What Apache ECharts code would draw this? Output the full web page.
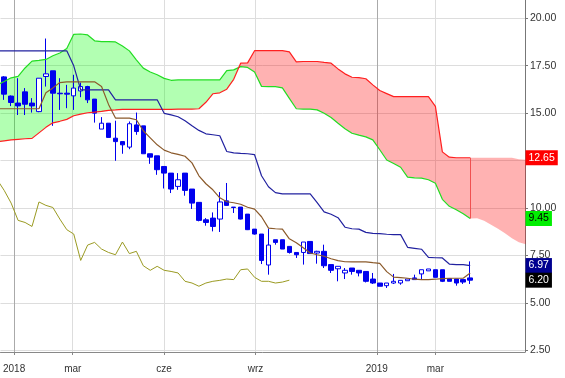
<!DOCTYPE html>
<html>
<head>
<meta charset="utf-8">
<script src="https://cdn.jsdelivr.net/npm/echarts@6/dist/echarts.min.js"></script>
<style>
  html, body { margin: 0; padding: 0; background: #fff; }
  #chart { width: 565px; height: 378px; }
</style>
</head>
<body>
<div id="chart"></div>
<script>
// weekly candles, first one (week of 2017-12-22) .. last one (2019-04-05)
const opens = [16.91,15.90,15.53,16.12,15.53,15.08,16.93,17.23,16.05,16.05,
  15.91,16.17,16.40,15.74,14.16,14.47,13.68,13.50,13.21,14.38,
  14.33,12.86,12.75,12.19,11.84,11.14,11.84,11.00,10.30,9.38,
  9.47,9.42,10.38,10.05,10.05,9.68,8.89,8.63,7.00,8.33,
  8.33,7.98,7.66,7.66,8.24,7.63,7.72,7.02,6.80,6.58,
  6.84,6.72,6.66,6.26,6.05,5.91,6.05,6.05,6.17,6.32,
  6.53,6.69,6.75,6.75,6.28,6.26,6.23,6.32];
const closes = [16.00,15.56,15.38,15.47,15.38,16.84,17.07,16.05,16.02,16.00,
  16.32,16.40,15.70,15.00,14.47,13.72,13.50,13.33,14.44,14.03,
  12.86,12.68,12.02,11.84,11.00,11.49,10.93,10.26,9.35,9.24,
  9.03,10.32,10.14,10.03,9.42,8.86,8.63,7.24,8.05,8.19,
  7.84,7.66,7.54,8.21,7.60,7.72,6.96,6.72,6.93,6.72,
  6.66,6.58,6.14,6.05,5.88,6.05,6.14,6.19,6.26,6.23,
  6.75,6.79,6.35,6.14,6.14,6.05,6.10,6.20];
const lows = [15.70,15.37,14.90,14.90,15.03,15.05,16.40,14.33,15.17,15.26,
  15.17,15.84,15.53,14.50,14.16,13.72,12.49,12.86,13.10,13.86,
  12.86,12.33,11.75,11.03,10.79,10.96,10.65,9.95,9.30,9.07,
  8.77,8.74,10.12,9.74,9.40,8.84,8.60,7.05,6.49,8.07,
  7.84,7.60,7.37,7.02,7.60,7.07,6.84,6.58,6.14,6.26,
  6.49,6.40,6.08,6.00,5.88,5.79,6.00,5.96,6.17,6.23,
  6.23,6.69,6.35,6.10,6.14,5.91,6.00,6.00];
const highs = [16.95,15.93,16.84,16.32,15.79,16.84,18.93,17.23,16.84,16.49,
  17.02,16.61,16.44,15.74,14.79,14.47,14.60,13.50,14.56,15.03,
  14.33,12.86,12.75,12.19,11.84,11.84,11.84,11.00,10.30,9.47,
  9.77,10.84,11.32,10.05,10.05,9.68,8.89,8.63,8.91,8.33,
  8.33,7.98,7.66,8.21,8.24,7.75,8.07,7.02,6.93,6.84,
  6.84,6.72,6.66,6.58,6.05,6.05,6.53,6.19,6.26,6.49,
  6.75,6.79,6.75,6.75,6.28,6.26,6.23,7.19];

// indicator lines, starting one week before the first candle
const tenkan = [15.23,15.23,15.23,15.23,15.23,15.23,15.23,16.07,16.33,16.61,
  16.65,16.65,16.65,16.65,16.65,16.40,15.46,14.74,14.74,14.74,
  14.65,14.07,13.70,13.33,13.05,12.91,12.83,12.73,12.38,11.70,
  11.28,10.96,10.54,10.33,10.28,10.20,10.04,9.94,9.54,8.94,
  8.91,8.89,8.38,8.17,7.91,7.63,7.54,7.46,7.33,7.23,
  7.17,7.16,7.16,7.16,7.12,7.09,6.65,6.36,6.33,6.30,
  6.25,6.23,6.23,6.25,6.28,6.30,6.30,6.30,6.58];
const kijun = [18.28,18.28,18.28,18.28,18.28,18.28,18.28,18.28,18.28,18.28,
  18.28,17.49,16.23,16.23,16.23,16.23,16.23,15.70,15.70,15.70,
  15.70,15.70,15.70,15.70,14.99,14.91,14.81,14.60,14.33,14.09,
  13.91,13.86,13.81,12.98,12.91,12.88,12.86,12.81,11.70,11.12,
  10.81,10.75,10.75,10.75,10.75,10.75,10.28,9.80,9.67,9.49,
  8.99,8.91,8.89,8.72,8.67,8.65,8.62,8.60,8.60,7.93,
  7.88,7.83,7.40,7.38,7.37,7.05,7.02,7.02,6.97];
// cloud spans run 8 weeks further than the candles
const spanA = [16.49,16.67,16.86,16.94,17.38,17.74,17.78,17.83,18.02,18.17,
  18.40,19.15,19.17,19.12,18.81,18.77,18.77,18.75,18.54,18.28,
  17.81,17.37,17.17,17.02,16.83,16.73,16.75,16.75,16.75,16.75,
  16.75,16.75,16.75,17.24,17.28,17.45,17.41,17.17,16.41,16.40,
  16.40,16.33,15.78,15.23,15.21,15.21,15.17,14.99,14.77,14.47,
  14.18,13.94,13.84,13.75,13.59,13.07,12.53,12.35,12.15,11.63,
  11.59,11.58,11.49,11.31,10.46,10.09,9.91,9.70,9.45,9.46,
  9.33,9.12,8.91,8.67,8.41,8.20,8.09];
const spanB = [13.49,13.54,13.59,13.62,13.65,13.67,13.96,14.25,14.49,14.57,
  14.67,14.86,14.95,15.02,15.05,15.09,15.15,15.17,15.20,15.20,
  15.20,15.20,15.20,15.20,15.20,15.20,15.21,15.21,15.21,15.23,
  15.57,16.02,16.07,16.26,16.78,17.63,17.65,18.29,18.29,18.29,
  18.29,18.29,18.23,17.70,17.72,17.72,17.72,17.67,17.63,17.33,
  17.07,16.89,16.87,16.81,16.49,16.19,16.03,15.87,15.87,15.87,
  15.87,15.87,15.87,15.36,12.96,12.68,12.65,12.65,12.65,12.65,
  12.65,12.65,12.65,12.65,12.65,12.57,12.54];

const tickDates = [Date.UTC(2018,0,1), Date.UTC(2018,2,1), Date.UTC(2018,5,1),
  Date.UTC(2018,8,1), Date.UTC(2019,0,1), Date.UTC(2019,2,1)];
const tickLabels = ['2018', 'mar', 'cze', 'wrz', '2019', 'mar'];
const priceTicks = [2.5, 5, 7.5, 10, 12.5, 15, 17.5, 20];

const DAY = 86400000;
const startWeek = Date.UTC(2017, 11, 15);
const dates = spanA.map((_, k) => startWeek + k * 7 * DAY);
const axisMin = Date.UTC(2017, 11, 22) - 3.72 * DAY;
const axisMax = axisMin + 527.9 * DAY;
const last = closes.length; // index of last candle in dates

const pair = (arr) => arr.map((v, k) => [dates[k], v]);
const candles = [[dates[0], '-', '-', '-', '-']].concat(
  opens.map((o, i) => [dates[i + 1], o, closes[i], lows[i], highs[i]]));
const lagging = closes.slice(25).map((v, k) => [dates[k], v]);
const kumo = spanA.map((a, k) => [dates[k], a, spanB[k]]);

const FONT = 'Liberation Sans, Arial, sans-serif';
const BLUE = '#0000ee';
const UP_FILL = 'rgba(0,255,0,0.3)';
const DOWN_FILL = 'rgba(255,0,0,0.3)';

// whole cloud drawn once, split into one polygon per bullish/bearish stretch
function renderKumo(params, api) {
  if (params.dataIndex !== 0) return null;
  const regions = [];
  let top = [], bottom = [];
  let sign = Math.sign(kumo[0][1] - kumo[0][2]) || 1;
  const close = () => {
    const pts = top.concat(bottom.slice().reverse()).map((p) => api.coord(p));
    regions.push({
      type: 'polygon', shape: { points: pts },
      style: { fill: sign > 0 ? UP_FILL : DOWN_FILL, stroke: null }, silent: true
    });
  };
  for (let k = 0; k < kumo.length; k++) {
    const [x, a, b] = kumo[k];
    const s = Math.sign(a - b);
    if (k > 0 && s !== 0 && s !== sign) {
      const [px, pa, pb] = kumo[k - 1];
      const t = (pa - pb) / ((pa - pb) - (a - b));
      const cross = [px + (x - px) * t, pa + (a - pa) * t];
      top.push(cross); bottom.push(cross);
      close();
      top = [cross]; bottom = [cross];
      sign = s;
    }
    top.push([x, a]); bottom.push([x, b]);
  }
  close();
  return { type: 'group', children: regions };
}

function tag(value, bg, fg) {
  return {
    symbol: 'rect', symbolSize: 1,
    itemStyle: { color: 'rgba(0,0,0,0)' },
    label: {
      show: true, position: 'right', distance: 0,
      formatter: () => value.toFixed(2),
      backgroundColor: bg, color: fg, padding: [2, 3, 2, 3],
      fontSize: 10.5, fontFamily: FONT
    },
    data: [{ coord: [axisMax, value] }]
  };
}

const chart = echarts.init(document.getElementById('chart'));
const option = {
  animation: false,
  grid: { left: 0, right: 40, top: 0, bottom: 26 },
  xAxis: {
    type: 'value', min: axisMin, max: axisMax,
    axisLine: { lineStyle: { color: '#888' } },
    axisTick: { show: true, customValues: tickDates, length: 3, lineStyle: { color: '#888' } },
    axisLabel: {
      customValues: tickDates,
      formatter: (v) => tickLabels[tickDates.indexOf(v)],
      color: '#333', fontSize: 10, fontFamily: FONT, margin: 12
    },
    splitLine: { show: true, lineStyle: { color: ['#aaa', '#ddd', '#ddd', '#ddd', '#aaa', '#ddd'] } }
  },
  yAxis: {
    type: 'value', position: 'right', min: 2.416, max: 20.96,
    axisLine: { show: true, lineStyle: { color: '#777' } },
    axisTick: { show: true, customValues: priceTicks, length: 3, lineStyle: { color: '#777' } },
    axisLabel: {
      customValues: priceTicks, formatter: (v) => v.toFixed(2),
      color: '#333', fontSize: 10.5, fontFamily: FONT, margin: 5
    },
    splitLine: { lineStyle: { color: '#ddd' } }
  },
  series: [
    { type: 'custom', data: kumo, renderItem: renderKumo, clip: true, silent: true,
      encode: { x: 0, y: [1, 2] } },
    { type: 'line', data: lagging, symbol: 'none', lineStyle: { color: '#9a9a22', width: 1 } },
    { type: 'line', data: pair(spanA.slice(0, last + 1)), symbol: 'none',
      lineStyle: { color: '#22dd22', width: 1.2 },
      markPoint: tag(spanA[last], '#00ee00', '#000') },
    { type: 'line', data: pair(spanB.slice(0, last + 1)), symbol: 'none',
      lineStyle: { color: '#ff2020', width: 1.2 },
      markPoint: tag(spanB[last], '#ff0000', '#fff'),
      markLine: {
        symbol: 'none', silent: true, label: { show: false },
        lineStyle: { color: '#f05050', width: 1, type: 'solid' },
        data: [[{ coord: [dates[last], spanB[last]] }, { coord: [dates[last], spanA[last]] }]]
      } },
    { type: 'line', data: pair(kijun), symbol: 'none', lineStyle: { color: '#2222a0', width: 1.2 },
      markPoint: tag(kijun[last], '#000090', '#fff') },
    { type: 'line', data: pair(tenkan), symbol: 'none', lineStyle: { color: '#8b5a2b', width: 1.2 } },
    {
      type: 'candlestick', data: candles, barWidth: 5,
      itemStyle: { color: '#fff', color0: BLUE, borderColor: BLUE, borderColor0: BLUE, borderWidth: 1 },
      markPoint: tag(closes[closes.length - 1], '#000', '#fff')
    }
  ]
};
chart.setOption(option);
</script>
</body>
</html>
